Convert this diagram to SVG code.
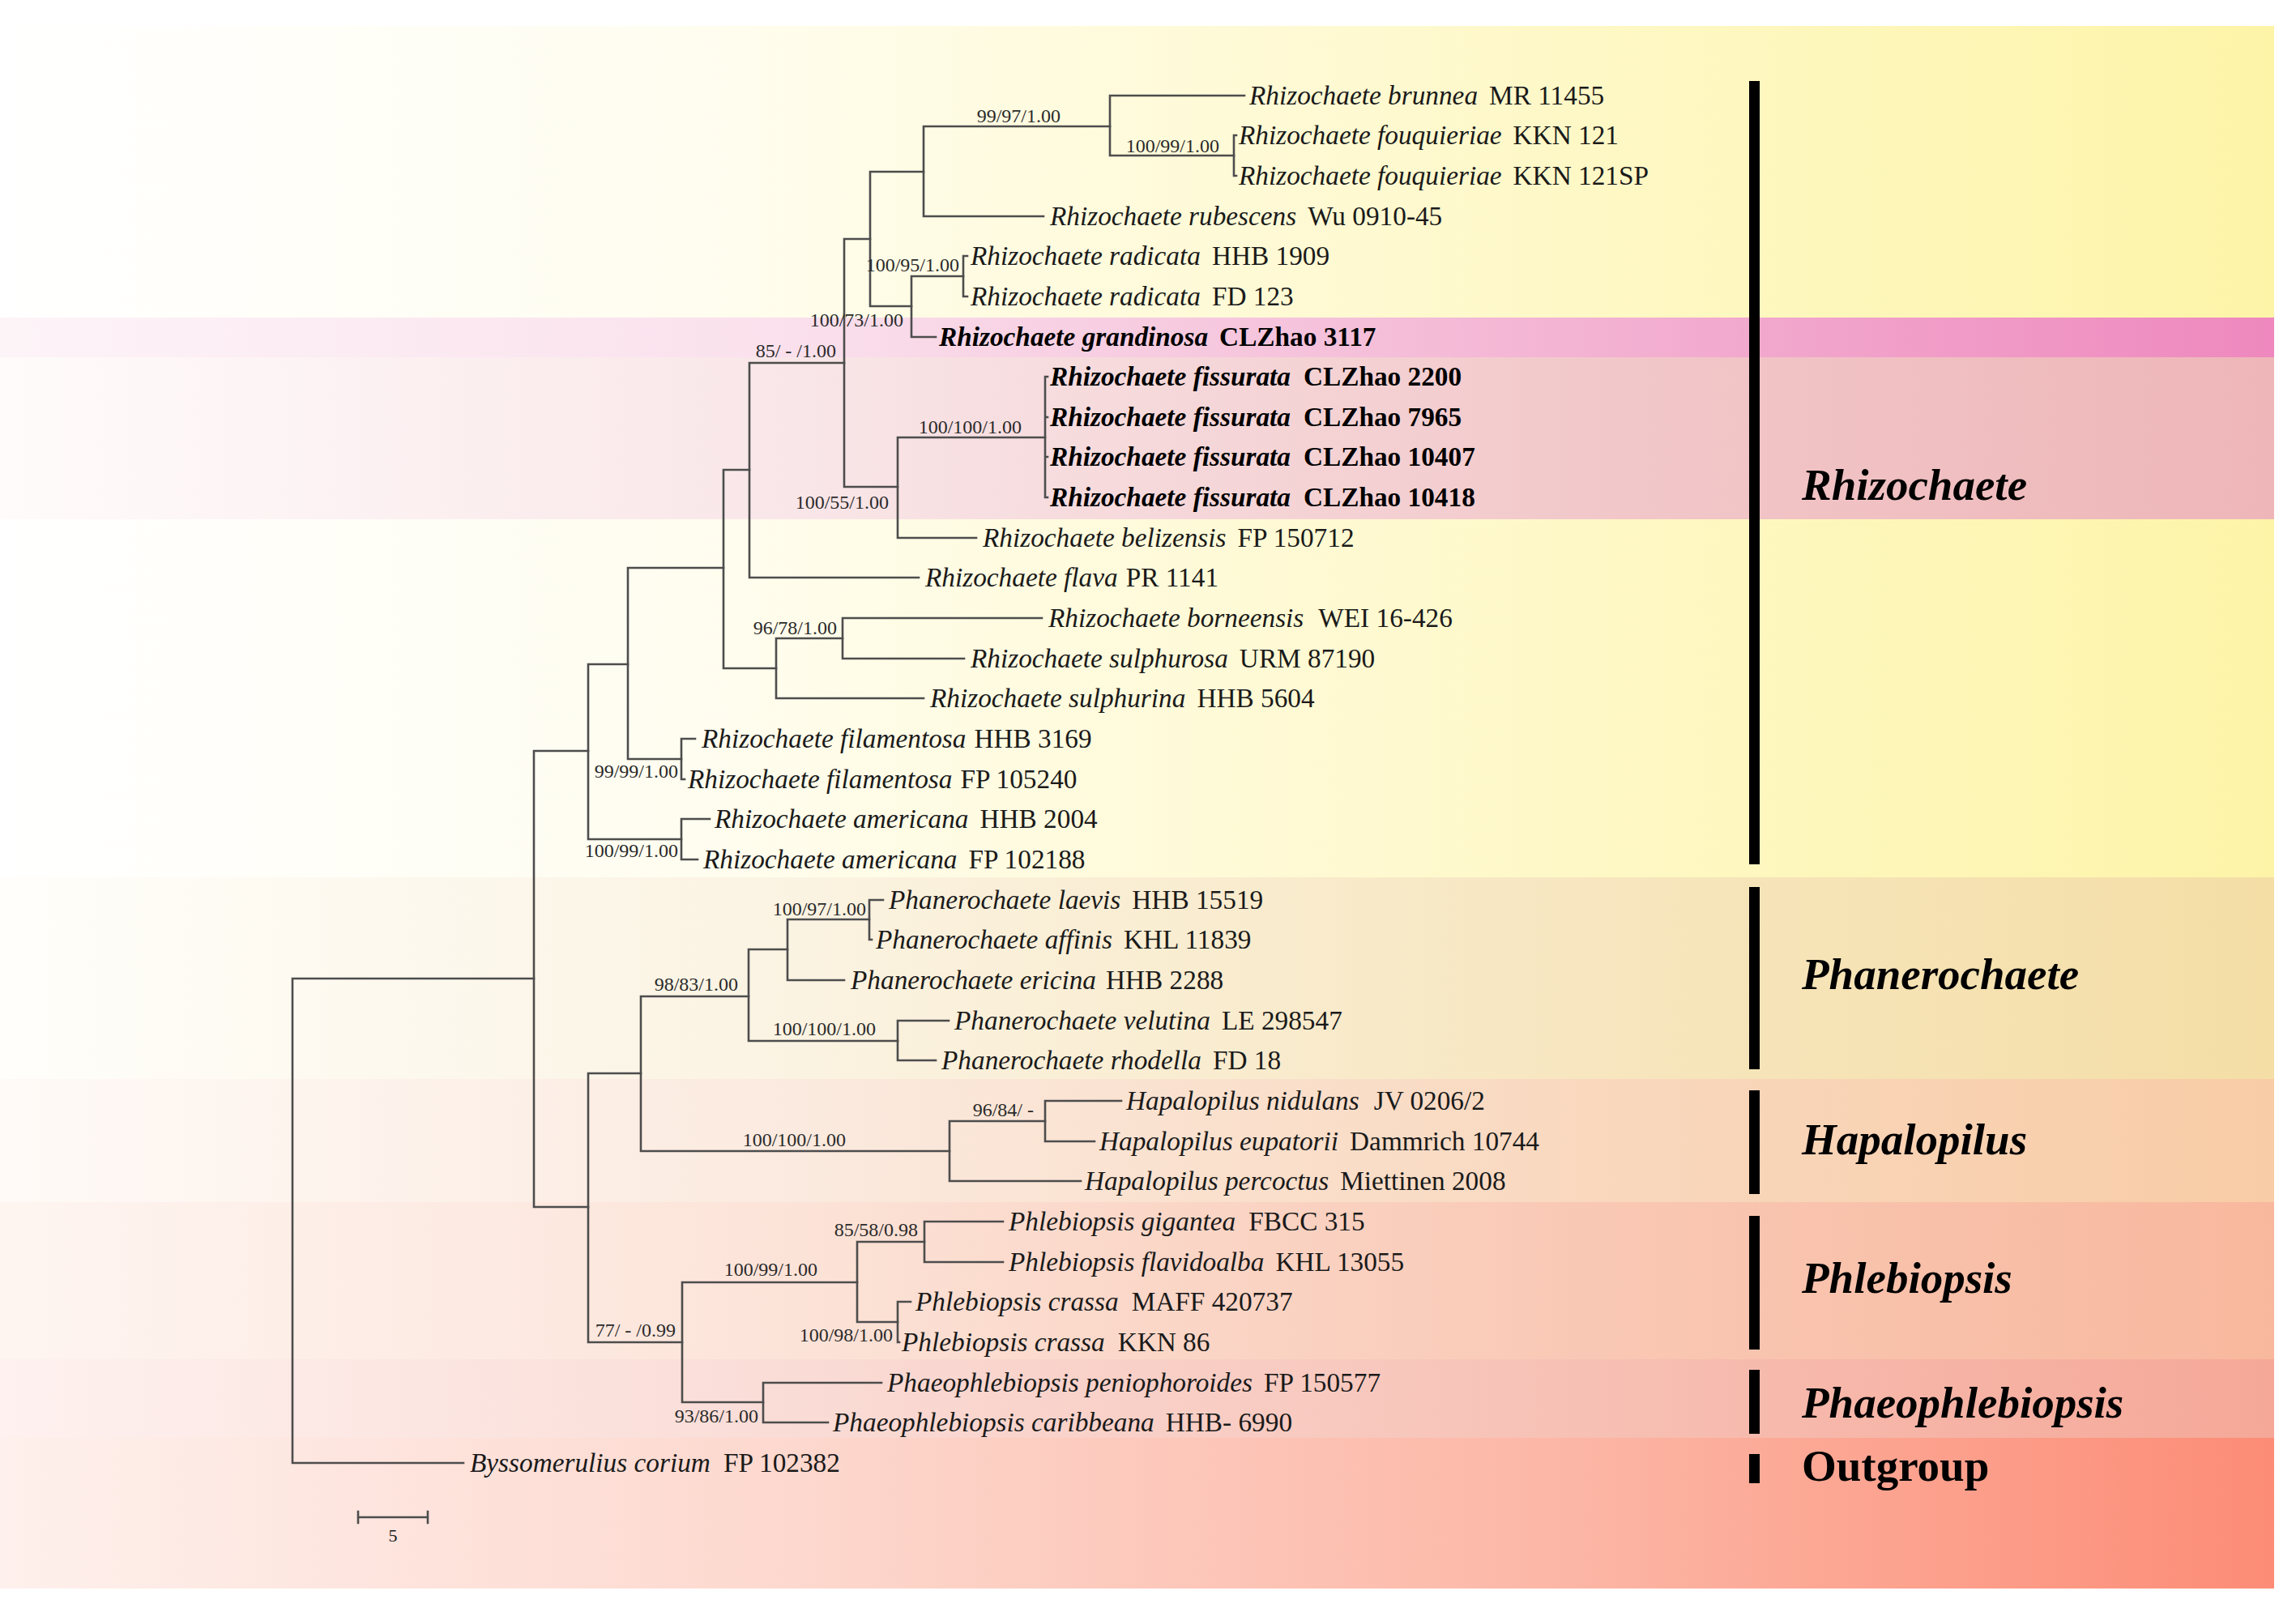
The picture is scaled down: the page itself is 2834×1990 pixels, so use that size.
<svg xmlns="http://www.w3.org/2000/svg" width="2834" height="1990" viewBox="0 0 2834 1990">
<defs>
<style>
.tx{font-family:"Liberation Serif","Times New Roman",serif;font-size:33.3px;fill:#1a1a1a}
.it{font-style:italic}
.bd{font-weight:bold;fill:#000}
.sp{font-family:"Liberation Serif","Times New Roman",serif;font-size:24px;fill:#2a2a2a;text-anchor:end}
.cl{font-family:"Liberation Serif","Times New Roman",serif;font-size:55px;font-weight:bold;font-style:italic;fill:#000}
.cn{font-family:"Liberation Serif","Times New Roman",serif;font-size:55px;font-weight:bold;font-style:normal;fill:#000}
.br{fill:#000}
.ln{fill:none;stroke:#4d4d4d;stroke-width:2.6;stroke-linecap:square}
</style>
<linearGradient id="gY" x1="0" y1="0" x2="1" y2="0"><stop offset="0" stop-color="#FFFFFF"/><stop offset="0.3" stop-color="#FFFDF0"/><stop offset="0.7" stop-color="#FEF8C6"/><stop offset="1" stop-color="#FDF4A8"/></linearGradient>
<linearGradient id="gPk" x1="0" y1="0" x2="1" y2="0"><stop offset="0" stop-color="#FDF4F8"/><stop offset="0.35" stop-color="#FAE0EC"/><stop offset="0.7" stop-color="#F3B2D2"/><stop offset="1" stop-color="#EE88BE"/></linearGradient>
<linearGradient id="gFi" x1="0" y1="0" x2="1" y2="0"><stop offset="0" stop-color="#FFFBFB"/><stop offset="0.35" stop-color="#F9E6E8"/><stop offset="0.7" stop-color="#F2C8CA"/><stop offset="1" stop-color="#EEB6B8"/></linearGradient>
<linearGradient id="gPh" x1="0" y1="0" x2="1" y2="0"><stop offset="0" stop-color="#FFFEFA"/><stop offset="0.35" stop-color="#FBF3E2"/><stop offset="0.7" stop-color="#F7E6BF"/><stop offset="1" stop-color="#F4DEA6"/></linearGradient>
<linearGradient id="gHa" x1="0" y1="0" x2="1" y2="0"><stop offset="0" stop-color="#FFFAF7"/><stop offset="0.35" stop-color="#FBEADF"/><stop offset="0.7" stop-color="#F9D8BE"/><stop offset="1" stop-color="#F8CCA6"/></linearGradient>
<linearGradient id="gPl" x1="0" y1="0" x2="1" y2="0"><stop offset="0" stop-color="#FEF5F1"/><stop offset="0.35" stop-color="#FCE3D8"/><stop offset="0.7" stop-color="#F9C8B4"/><stop offset="1" stop-color="#F8B89E"/></linearGradient>
<linearGradient id="gPa" x1="0" y1="0" x2="1" y2="0"><stop offset="0" stop-color="#FEF1EF"/><stop offset="0.35" stop-color="#FADCD6"/><stop offset="0.7" stop-color="#F7C0B4"/><stop offset="1" stop-color="#F5A898"/></linearGradient>
<linearGradient id="gOu" x1="0" y1="0" x2="1" y2="0"><stop offset="0" stop-color="#FEF0EC"/><stop offset="0.35" stop-color="#FDD8CE"/><stop offset="0.7" stop-color="#FCB5A4"/><stop offset="1" stop-color="#FC8C76"/></linearGradient>
</defs>
<rect width="2834" height="1990" fill="#FFFFFF"/>
<g id="background">
<rect x="0" y="32" width="2807" height="360" fill="url(#gY)"/>
<rect x="0" y="392" width="2807" height="49" fill="url(#gPk)"/>
<rect x="0" y="441" width="2807" height="200" fill="url(#gFi)"/>
<rect x="0" y="641" width="2807" height="442" fill="url(#gY)"/>
<rect x="0" y="1083" width="2807" height="249" fill="url(#gPh)"/>
<rect x="0" y="1332" width="2807" height="152" fill="url(#gHa)"/>
<rect x="0" y="1484" width="2807" height="194" fill="url(#gPl)"/>
<rect x="0" y="1678" width="2807" height="97" fill="url(#gPa)"/>
<rect x="0" y="1775" width="2807" height="186" fill="url(#gOu)"/>
</g>
<g id="connectors" class="ln">
<path d="M361 1208 V1806 M361 1208 H659 M361 1806 H572"/>
<path d="M659 927 V1490 M659 927 H726 M659 1490 H726"/>
<path d="M726 820 V1036 M726 820 H775 M726 1036 H841"/>
<path d="M841 1011 V1061 M841 1011 H876 M841 1061 H861"/>
<path d="M775 701 V937 M775 701 H893 M775 937 H841"/>
<path d="M841 912 V962 M841 912 H858 M841 962 H845"/>
<path d="M893 580 V825 M893 580 H925 M893 825 H958"/>
<path d="M958 788 V862 M958 788 H1040 M958 862 H1140"/>
<path d="M1040 763 V813 M1040 763 H1286 M1040 813 H1190"/>
<path d="M925 448 V713 M925 448 H1042 M925 713 H1134"/>
<path d="M1042 295 V601 M1042 295 H1074 M1042 601 H1108"/>
<path d="M1108 540 V664 M1108 540 H1290 M1108 664 H1205"/>
<path d="M1290 465 V614 M1290 465 H1293 M1290 515 H1293 M1290 564 H1293 M1290 614 H1293"/>
<path d="M1074 212 V378 M1074 212 H1140 M1074 378 H1125"/>
<path d="M1140 156 V267 M1140 156 H1370 M1140 267 H1288"/>
<path d="M1370 118 V192 M1370 118 H1536 M1370 192 H1523"/>
<path d="M1523 167 V217 M1523 167 H1526 M1523 217 H1526"/>
<path d="M1125 341 V416 M1125 341 H1189 M1125 416 H1155"/>
<path d="M1189 316 V366 M1189 316 H1194 M1189 366 H1194"/>
<path d="M726 1325 V1657 M726 1325 H791 M726 1657 H842"/>
<path d="M791 1230 V1421 M791 1230 H924 M791 1421 H1172"/>
<path d="M924 1172 V1285 M924 1172 H972 M924 1285 H1108"/>
<path d="M972 1135 V1210 M972 1135 H1073 M972 1210 H1042"/>
<path d="M1073 1111 V1160 M1073 1111 H1090 M1073 1160 H1076"/>
<path d="M1108 1260 V1309 M1108 1260 H1171 M1108 1309 H1155"/>
<path d="M1172 1384 V1458 M1172 1384 H1290 M1172 1458 H1334"/>
<path d="M1290 1359 V1409 M1290 1359 H1384 M1290 1409 H1351"/>
<path d="M842 1583 V1731 M842 1583 H1058 M842 1731 H942"/>
<path d="M1058 1533 V1632 M1058 1533 H1141 M1058 1632 H1108"/>
<path d="M1141 1508 V1558 M1141 1508 H1238 M1141 1558 H1238"/>
<path d="M1108 1607 V1657 M1108 1607 H1124 M1108 1657 H1110"/>
<path d="M942 1707 V1756 M942 1707 H1088 M942 1756 H1022"/>
</g>
<g id="support-values">
<text class="sp" x="1309" y="151">99/97/1.00</text>
<text class="sp" x="1505" y="188">100/99/1.00</text>
<text class="sp" x="1184" y="335">100/95/1.00</text>
<text class="sp" x="1115" y="403">100/73/1.00</text>
<text class="sp" x="1032" y="441">85/ - /1.00</text>
<text class="sp" x="1261" y="535">100/100/1.00</text>
<text class="sp" x="1097" y="628">100/55/1.00</text>
<text class="sp" x="1033" y="783">96/78/1.00</text>
<text class="sp" x="837" y="960">99/99/1.00</text>
<text class="sp" x="837" y="1058">100/99/1.00</text>
<text class="sp" x="1069" y="1130">100/97/1.00</text>
<text class="sp" x="911" y="1223">98/83/1.00</text>
<text class="sp" x="1081" y="1278">100/100/1.00</text>
<text class="sp" x="1276" y="1378">96/84/ -</text>
<text class="sp" x="1044" y="1415">100/100/1.00</text>
<text class="sp" x="1133" y="1526">85/58/0.98</text>
<text class="sp" x="1009" y="1575">100/99/1.00</text>
<text class="sp" x="1102" y="1656">100/98/1.00</text>
<text class="sp" x="834" y="1650">77/ - /0.99</text>
<text class="sp" x="936" y="1756">93/86/1.00</text>
</g>
<g id="taxon-1"><text class="tx" x="1542" y="129"><tspan class="it">Rhizochaete brunnea</tspan><tspan dx="14">MR 11455</tspan></text></g>
<g id="taxon-2"><text class="tx" x="1529" y="178"><tspan class="it">Rhizochaete fouquieriae</tspan><tspan dx="14">KKN 121</tspan></text></g>
<g id="taxon-3"><text class="tx" x="1529" y="228"><tspan class="it">Rhizochaete fouquieriae</tspan><tspan dx="14">KKN 121SP</tspan></text></g>
<g id="taxon-4"><text class="tx" x="1296" y="278"><tspan class="it">Rhizochaete rubescens</tspan><tspan dx="14">Wu 0910-45</tspan></text></g>
<g id="taxon-5"><text class="tx" x="1198" y="327"><tspan class="it">Rhizochaete radicata</tspan><tspan dx="14">HHB 1909</tspan></text></g>
<g id="taxon-6"><text class="tx" x="1198" y="377"><tspan class="it">Rhizochaete radicata</tspan><tspan dx="14">FD 123</tspan></text></g>
<g id="taxon-7"><text class="tx bd" x="1159" y="427"><tspan class="it">Rhizochaete grandinosa</tspan><tspan dx="14">CLZhao 3117</tspan></text></g>
<g id="taxon-8"><text class="tx bd" x="1296" y="476"><tspan class="it">Rhizochaete fissurata</tspan><tspan dx="16">CLZhao 2200</tspan></text></g>
<g id="taxon-9"><text class="tx bd" x="1296" y="526"><tspan class="it">Rhizochaete fissurata</tspan><tspan dx="16">CLZhao 7965</tspan></text></g>
<g id="taxon-10"><text class="tx bd" x="1296" y="575"><tspan class="it">Rhizochaete fissurata</tspan><tspan dx="16">CLZhao 10407</tspan></text></g>
<g id="taxon-11"><text class="tx bd" x="1296" y="625"><tspan class="it">Rhizochaete fissurata</tspan><tspan dx="16">CLZhao 10418</tspan></text></g>
<g id="taxon-12"><text class="tx" x="1213" y="675"><tspan class="it">Rhizochaete belizensis</tspan><tspan dx="14">FP 150712</tspan></text></g>
<g id="taxon-13"><text class="tx" x="1142" y="724"><tspan class="it">Rhizochaete flava</tspan><tspan dx="10">PR 1141</tspan></text></g>
<g id="taxon-14"><text class="tx" x="1294" y="774"><tspan class="it">Rhizochaete borneensis</tspan><tspan dx="18">WEI 16-426</tspan></text></g>
<g id="taxon-15"><text class="tx" x="1198" y="824"><tspan class="it">Rhizochaete sulphurosa</tspan><tspan dx="14">URM 87190</tspan></text></g>
<g id="taxon-16"><text class="tx" x="1148" y="873"><tspan class="it">Rhizochaete sulphurina</tspan><tspan dx="14">HHB 5604</tspan></text></g>
<g id="taxon-17"><text class="tx" x="866" y="923"><tspan class="it">Rhizochaete filamentosa</tspan><tspan dx="10">HHB 3169</tspan></text></g>
<g id="taxon-18"><text class="tx" x="849" y="973"><tspan class="it">Rhizochaete filamentosa</tspan><tspan dx="10">FP 105240</tspan></text></g>
<g id="taxon-19"><text class="tx" x="882" y="1022"><tspan class="it">Rhizochaete americana</tspan><tspan dx="14">HHB 2004</tspan></text></g>
<g id="taxon-20"><text class="tx" x="868" y="1072"><tspan class="it">Rhizochaete americana</tspan><tspan dx="14">FP 102188</tspan></text></g>
<g id="taxon-21"><text class="tx" x="1097" y="1122"><tspan class="it">Phanerochaete laevis</tspan><tspan dx="14">HHB 15519</tspan></text></g>
<g id="taxon-22"><text class="tx" x="1081" y="1171"><tspan class="it">Phanerochaete affinis</tspan><tspan dx="14">KHL 11839</tspan></text></g>
<g id="taxon-23"><text class="tx" x="1050" y="1221"><tspan class="it">Phanerochaete ericina</tspan><tspan dx="12">HHB 2288</tspan></text></g>
<g id="taxon-24"><text class="tx" x="1178" y="1271"><tspan class="it">Phanerochaete velutina</tspan><tspan dx="14">LE 298547</tspan></text></g>
<g id="taxon-25"><text class="tx" x="1162" y="1320"><tspan class="it">Phanerochaete rhodella</tspan><tspan dx="14">FD 18</tspan></text></g>
<g id="taxon-26"><text class="tx" x="1390" y="1370"><tspan class="it">Hapalopilus nidulans</tspan><tspan dx="18">JV 0206/2</tspan></text></g>
<g id="taxon-27"><text class="tx" x="1357" y="1420"><tspan class="it">Hapalopilus eupatorii</tspan><tspan dx="14">Dammrich 10744</tspan></text></g>
<g id="taxon-28"><text class="tx" x="1339" y="1469"><tspan class="it">Hapalopilus percoctus</tspan><tspan dx="14">Miettinen 2008</tspan></text></g>
<g id="taxon-29"><text class="tx" x="1245" y="1519"><tspan class="it">Phlebiopsis gigantea</tspan><tspan dx="16">FBCC 315</tspan></text></g>
<g id="taxon-30"><text class="tx" x="1245" y="1569"><tspan class="it">Phlebiopsis flavidoalba</tspan><tspan dx="14">KHL 13055</tspan></text></g>
<g id="taxon-31"><text class="tx" x="1130" y="1618"><tspan class="it">Phlebiopsis crassa</tspan><tspan dx="16">MAFF 420737</tspan></text></g>
<g id="taxon-32"><text class="tx" x="1113" y="1668"><tspan class="it">Phlebiopsis crassa</tspan><tspan dx="16">KKN 86</tspan></text></g>
<g id="taxon-33"><text class="tx" x="1095" y="1718"><tspan class="it">Phaeophlebiopsis peniophoroides</tspan><tspan dx="14">FP 150577</tspan></text></g>
<g id="taxon-34"><text class="tx" x="1028" y="1767"><tspan class="it">Phaeophlebiopsis caribbeana</tspan><tspan dx="14">HHB- 6990</tspan></text></g>
<g id="taxon-35"><text class="tx" x="580" y="1817"><tspan class="it">Byssomerulius corium</tspan><tspan dx="16">FP 102382</tspan></text></g>
<g id="clade-rhizochaete"><rect class="br" x="2159" y="100" width="13" height="967"/><text class="cl" x="2224" y="617">Rhizochaete</text></g>
<g id="clade-phanerochaete"><rect class="br" x="2159" y="1095" width="13" height="225"/><text class="cl" x="2224" y="1221">Phanerochaete</text></g>
<g id="clade-hapalopilus"><rect class="br" x="2159" y="1346" width="13" height="128"/><text class="cl" x="2224" y="1425">Hapalopilus</text></g>
<g id="clade-phlebiopsis"><rect class="br" x="2159" y="1501" width="13" height="165"/><text class="cl" x="2224" y="1596">Phlebiopsis</text></g>
<g id="clade-phaeophlebiopsis"><rect class="br" x="2159" y="1691" width="13" height="79"/><text class="cl" x="2224" y="1750">Phaeophlebiopsis</text></g>
<g id="clade-outgroup"><rect class="br" x="2159" y="1795" width="13" height="36"/><text class="cn" x="2224" y="1828">Outgroup</text></g>
<g id="scale-bar">
<path class="ln" d="M442 1873 H528 M442 1866 V1880 M528 1866 V1880"/>
<text x="485" y="1903" font-family="Liberation Serif, Times New Roman, serif" font-size="22" text-anchor="middle" fill="#1a1a1a">5</text>
</g>
</svg>
